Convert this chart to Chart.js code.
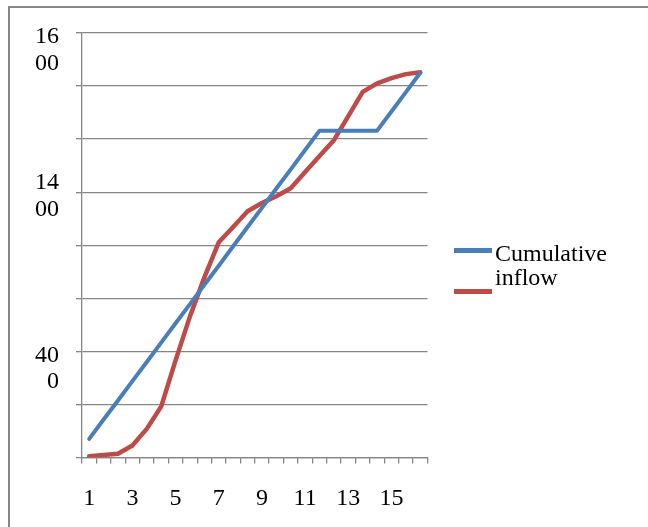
<!DOCTYPE html>
<html>
<head>
<meta charset="utf-8">
<script src="https://cdn.jsdelivr.net/npm/chart.js@4/dist/chart.umd.min.js"></script>
<style>
  html, body { margin: 0; padding: 0; background: #ffffff; }
  #wrap { position: relative; width: 648px; height: 527px; overflow: hidden; }
  #frame { position: absolute; left: 8px; top: 6px; right: -10px; bottom: -10px;
           border-top: 2px solid #878787; border-left: 2px solid #878787; }
  #grafico { position: absolute; left: 0; top: 0; }
  .sw { position: absolute; left: 454px; width: 38px; }
  #legendText { position: absolute; left: 495px; top: 241px; font: 24px/24px 'Liberation Serif', 'Times New Roman', serif; color: #000; }
</style>
</head>
<body>
<div id="wrap">
  <div id="frame"></div>
  <canvas id="grafico" width="648" height="527"></canvas>
  <div class="sw" style="top:248px;height:4.5px;background:#4a7ebb"></div>
  <div class="sw" style="top:288.5px;height:5px;background:#be4b48"></div>
  <div id="legendText">Cumulative<br>inflow</div>
</div>
<script>
// ==================== DADOS ====================
const categorias = ['c1', 'c2', 'c3', 'c4', 'c5', 'c6', 'c7', 'c8', 'c9', 'c10', 'c11', 'c12',
                    'c13', 'c14', 'c15', 'c16', 'c17', 'c18', 'c19', 'c20', 'c21', 'c22', 'c23', 'c24'];
const xRotulos = ['1', '', '', '3', '', '', '5', '', '', '7', '', '', '9', '', '', '11', '', '', '13', '', '', '15', '', ''];
const serieAzul = [70, 143, 215, 288, 360, 433, 506, 578, 651, 723, 796, 869, 941, 1014, 1086, 1159, 1232, 1232, 1232, 1232, 1232, 1304, 1377, 1450];
const serieVermelha = [5, 9, 14, 45, 108, 192, 366, 532, 679, 811, 869, 928, 959, 985, 1015, 1076, 1136, 1196, 1287, 1378, 1410, 1430, 1445, 1452];
const yGrade = [0, 200, 400, 600, 800, 1000, 1200, 1400, 1600];
const yTickValores = [1600, 1000, 400];
const yTickTextos = [['16', '00'], ['14', '00'], ['40', '0']];

const cinza = '#868686';
const fonte = { family: "'Liberation Serif', 'Times New Roman', serif", size: 24, lineHeight: 1.1 };

// contexto em CPU (evita falhas de texto no canvas acelerado)
const ctx = document.getElementById('grafico').getContext('2d', { willReadFrequently: true });

new Chart(ctx, {
    type: 'line',
    data: {
        labels: categorias,
        datasets: [
            { label: 'Cumulative inflow', data: serieAzul, borderColor: '#4a7ebb', borderWidth: 4 },
            { label: '', data: serieVermelha, borderColor: '#be4b48', borderWidth: 4.5 }
        ]
    },
    options: {
        responsive: false,
        animation: false,
        events: [],
        layout: { padding: { left: 0, top: 33, right: 220.5, bottom: 0 } },
        elements: {
            point: { radius: 0 },
            line: { tension: 0, fill: false, borderJoinStyle: 'round', borderCapStyle: 'round' }
        },
        plugins: { legend: { display: false }, tooltip: { enabled: false } },
        scales: {
            x: {
                offset: true,
                afterFit: s => { s.height = 69.5; s.paddingLeft = 0; s.paddingRight = 0; },
                grid: { offset: true, drawOnChartArea: false, tickLength: 6, color: cinza, lineWidth: 1.3 },
                border: { color: cinza, width: 1.3 },
                ticks: {
                    autoSkip: false,
                    maxRotation: 0,
                    padding: 22,
                    color: '#000',
                    font: fonte,
                    callback: (v, i) => xRotulos[i]
                }
            },
            y: {
                min: 0,
                max: 1600,
                afterFit: s => { s.width = 82; s.paddingTop = 0; s.paddingBottom = 0; },
                afterBuildTicks: s => { s.ticks = yGrade.map(v => ({ value: v })); },
                grid: { tickLength: 6, color: cinza, lineWidth: 1.3 },
                border: { color: cinza, width: 1.3 },
                ticks: {
                    autoSkip: false,
                    padding: 17,
                    labelOffset: 4,
                    color: '#000',
                    font: fonte,
                    callback: v => {
                        const i = yTickValores.indexOf(v);
                        if (i < 0) return '';
                        // no Excel o primeiro e o último rótulo ficam abaixo da linha
                        return (i === 1) ? yTickTextos[i] : [''].concat(yTickTextos[i]);
                    }
                }
            }
        }
    }
});
</script>
</body>
</html>
